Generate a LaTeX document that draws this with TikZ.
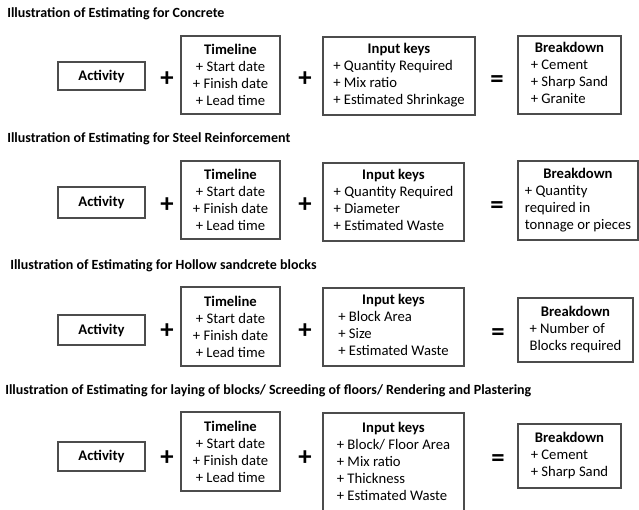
\documentclass[tikz,border=0pt]{standalone}
\usepackage{fontspec}
\setmainfont{Carlito}
\newcommand{\bx}[6]{\node[box, minimum width={(#4-#2)*0.75pt}, minimum height={(#5-#3)*0.75pt}] (#1) at ({(#2+#4)/2},{(#3+#5)/2}) {#6};}
\newcommand{\lst}[2]{\begin{tabular}{@{}l@{}}\multicolumn{1}{@{}c@{}}{\textbf{#1}}\\#2\end{tabular}}
\tikzset{
  box/.style={draw=black!70, line width=0.8pt, inner sep=0pt, align=center, font=\fontsize{11}{12.75}\selectfont},
  ttl/.style={anchor=west, inner sep=0pt, font=\fontsize{10.5}{12}\selectfont\bfseries},
  opsym/.style={inner sep=0pt, font=\fontsize{20}{20}\selectfont\bfseries}
}
\begin{document}
\begin{tikzpicture}[x=0.75pt,y=-0.75pt]
\useasboundingbox (0,0) rectangle (639,510);
\clip (0,0) rectangle (639,510);
% Row 1
\node[ttl] (t1) at (7,14) {Illustration of Estimating for Concrete};
\bx{a1}{58}{62}{145}{90}{\textbf{Activity}}
\bx{tl1}{181}{36}{280}{114}{\textbf{Timeline}\\+ Start date\\+ Finish date\\+ Lead time}
\bx{ik1}{323}{37}{475}{115}{\lst{Input keys}{+ Quantity Required\\+ Mix ratio\\+ Estimated Shrinkage}}
\bx{bd1}{518}{36}{621}{114}{\lst{Breakdown}{+ Cement\\+ Sharp Sand\\+ Granite}}
\node[opsym] (p1a) at (167,79) {+};
\node[opsym] (p1b) at (305,79) {+};
\node[opsym] (e1) at (497,82) {=};
% Row 2
\node[ttl] (t2) at (7,139) {Illustration of Estimating for Steel Reinforcement};
\bx{a2}{58}{187}{145}{218}{\textbf{Activity}}
\bx{tl2}{181}{161}{280}{239}{\textbf{Timeline}\\+ Start date\\+ Finish date\\+ Lead time}
\bx{ik2}{323}{163}{464}{241}{\lst{Input keys}{+ Quantity Required\\+ Diameter\\+ Estimated Waste}}
\bx{bd2}{518}{161}{638}{240}{\lst{Breakdown}{+ Quantity\\required in\\tonnage or pieces}}
\node[opsym] (p2a) at (167,205) {+};
\node[opsym] (p2b) at (305,205) {+};
\node[opsym] (e2) at (497,208) {=};
% Row 3
\node[ttl] (t3) at (10,266) {Illustration of Estimating for Hollow sandcrete blocks};
\bx{a3}{58}{315}{145}{345}{\textbf{Activity}}
\bx{tl3}{181}{287}{280}{366}{\textbf{Timeline}\\+ Start date\\+ Finish date\\+ Lead time}
\bx{ik3}{323}{288}{464}{366}{\lst{Input keys}{+ Block Area\\+ Size\\+ Estimated Waste}}
\bx{bd3}{518}{298}{633}{362}{\lst{Breakdown}{+ Number of\\Blocks required}}
\node[opsym] (p3a) at (167,331) {+};
\node[opsym] (p3b) at (305,331) {+};
\node[opsym] (e3) at (498,335) {=};
% Row 4
\node[ttl] (t4) at (5,391) {Illustration of Estimating for laying of blocks/ Screeding of floors/ Rendering and Plastering};
\bx{a4}{58}{442}{145}{471}{\textbf{Activity}}
\bx{tl4}{181}{412}{280}{491}{\textbf{Timeline}\\+ Start date\\+ Finish date\\+ Lead time}
\bx{ik4}{323}{413}{464}{514}{\lst{Input keys}{+ Block/ Floor Area\\+ Mix ratio\\+ Thickness\\+ Estimated Waste}}
\bx{bd4}{518}{424}{621}{488}{\lst{Breakdown}{+ Cement\\+ Sharp Sand}}
\node[opsym] (p4a) at (167,458) {+};
\node[opsym] (p4b) at (305,458) {+};
\node[opsym] (e4) at (498,461) {=};
\end{tikzpicture}
\end{document}
